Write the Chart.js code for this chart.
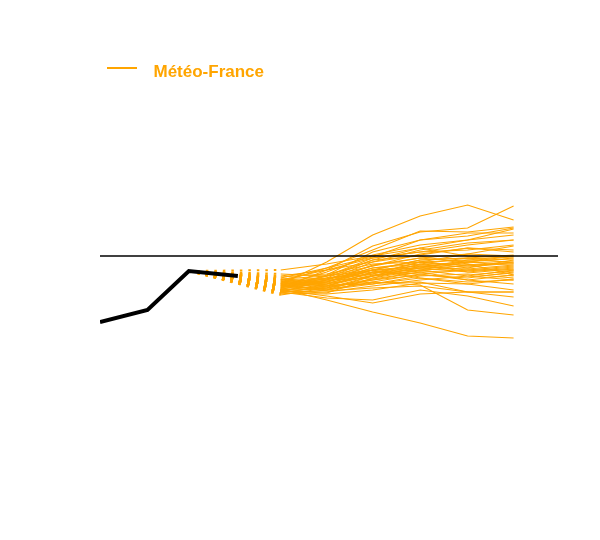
<!DOCTYPE html>
<html>
<head>
<meta charset="utf-8">
<script src="https://cdn.jsdelivr.net/npm/chart.js@4/dist/chart.umd.min.js"></script>
<style>
    html, body { margin: 0; padding: 0; background: #ffffff; }
</style>
</head>
<body>
<canvas id="chart" width="600" height="540"></canvas>
<script>
// ========================================
// Data (days from start, anomaly values)
// ========================================

const xMin = 0;
const xMax = 299;
const yMin = -24;
const yMax = 16.55;

// Observed series
const obsDays = [0, 31, 58, 90];
const obsValues = [-6.6, -5.4, -1.5, -2.0];

// Forecast dates for every ensemble member
const fcstDays = [118, 148, 178, 209, 240, 270];

// Zero reference line
const zeroDays = [xMin, xMax];
const zeroValues = [0, 0];

// Météo-France ensemble members, one list per member
const memberValues = [
    [-2.8, -0.6, 2.1, 4.0, 5.1, 3.6],
    [-3.2, -1.4, 1.0, 2.4, 2.8, 5.0],
    [-2.6, -1.2, 0.6, 2.5, 2.4, 2.9],
    [-3.4, -1.9, 0.4, 1.6, 2.0, 2.8],
    [-3.0, -1.6, 0.1, 1.1, 1.6, 2.7],
    [-2.2, -1.2, -0.1, 1.6, 2.3, 2.3],
    [-3.6, -2.4, -0.6, 0.6, 1.3, 1.6],
    [-2.9, -2.0, -0.2, 0.4, 0.6, 1.1],
    [-2.4, -1.4, -0.6, 0.1, 0.8, 0.6],
    [-3.3, -2.6, -0.9, -0.2, 0.2, 0.0],
    [-2.7, -2.2, -0.4, 0.8, 0.0, -0.2],
    [-3.5, -2.8, -1.4, -0.4, -0.2, 0.1],
    [-3.1, -2.4, -1.2, -0.6, -0.4, -0.6],
    [-2.3, -2.0, -1.0, -0.2, -0.6, -0.8],
    [-3.7, -3.0, -1.6, -0.9, -0.6, -1.0],
    [-2.8, -2.6, -1.4, -1.0, -0.8, -1.2],
    [-3.2, -2.2, -1.8, -0.6, -1.0, -1.4],
    [-2.5, -2.8, -2.0, -1.2, -1.0, -0.6],
    [-3.4, -3.0, -1.6, -1.4, -1.2, -1.6],
    [-3.0, -2.4, -2.2, -1.0, -1.4, -1.8],
    [-2.1, -1.8, -0.8, -0.6, -1.2, -0.4],
    [-3.6, -3.2, -2.4, -1.6, -1.4, -1.0],
    [-2.7, -3.0, -1.9, -1.2, -1.6, -2.0],
    [-3.3, -3.4, -2.6, -1.8, -1.4, -1.4],
    [-2.9, -2.3, -1.4, -0.4, -0.2, -0.7],
    [-2.4, -2.6, -1.2, -0.8, -1.6, -1.2],
    [-3.8, -3.4, -2.8, -2.0, -1.8, -2.2],
    [-3.1, -2.8, -2.0, -1.4, -2.0, -2.4],
    [-2.6, -3.2, -2.4, -1.9, -2.2, -1.6],
    [-3.5, -3.6, -3.0, -2.4, -2.0, -1.4],
    [-2.8, -2.5, -1.7, -1.1, -0.6, -0.2],
    [-3.2, -3.1, -2.3, -1.6, -2.4, -1.9],
    [-2.3, -2.9, -2.8, -2.2, -2.6, -2.4],
    [-3.7, -3.8, -3.4, -2.7, -2.8, -2.3],
    [-3.0, -3.3, -2.7, -2.6, -3.6, -3.6],
    [-3.4, -4.0, -4.7, -3.8, -3.6, -3.6],
    [-2.9, -3.5, -3.2, -3.0, -3.6, -4.1],
    [-3.6, -4.2, -4.4, -3.4, -4.0, -5.0],
    [-2.5, -3.0, -2.6, -2.9, -5.4, -5.9],
    [-3.3, -4.4, -5.6, -6.7, -8.0, -8.2],
    [-2.0, -1.4, -0.2, 0.4, 1.1, 1.6],
    [-1.4, -0.8, 0.0, 0.8, 1.6, 2.1],
    [-3.1, -2.7, -1.8, -0.6, 0.2, 1.0],
    [-2.7, -2.3, -1.0, 0.2, 0.8, 0.4],
    [-3.5, -3.7, -2.2, -1.4, -0.6, 0.0],
    [-3.9, -3.2, -2.0, -0.8, -0.2, -0.4],
    [-2.8, -3.4, -2.0, -1.5, -0.9, -0.8],
    [-3.2, -2.0, -0.4, 0.0, -0.8, -1.9],
    [-2.4, -2.2, -1.6, -1.8, -2.4, -2.8],
    [-3.0, -2.6, -1.4, -2.2, -2.8, -3.4],
    [-1.8, -2.0, -1.4, -1.2, -0.4, 0.0]
];

const ensembleLabel = 'Météo-France';
const ensembleColor = '#FFA500';

// ========================================
// Helpers
// ========================================

/**
 * Zip day and value arrays into {x, y} points
 */
function toPoints(days, values) {
    return days.map((d, i) => ({ x: d, y: values[i] }));
}

/**
 * Legend marker: a short line, sitting a little above the text middle,
 * followed by empty space before the label
 */
function makeLegendMarker() {
    const c = document.createElement('canvas');
    c.width = 38;
    c.height = 12;
    const g = c.getContext('2d');
    g.fillStyle = ensembleColor;
    g.fillRect(0, 1, 30, 2);
    return c;
}

// ========================================
// Datasets
// ========================================

const datasets = [];

datasets.push({
    label: 'obs',
    data: toPoints(obsDays, obsValues),
    borderColor: '#000000',
    borderWidth: 4,
    pointRadius: 0,
    order: 0
});

datasets.push({
    label: 'zero',
    data: toPoints(zeroDays, zeroValues),
    borderColor: '#000000',
    borderWidth: 1.3,
    pointRadius: 0,
    order: 1
});

// Dotted links from the last analysed point to each member's first value
const linkDay = obsDays[2];
const linkValue = obsValues[2];
memberValues.forEach((vals, i) => {
    datasets.push({
        label: 'link' + i,
        data: [{ x: linkDay, y: linkValue }, { x: fcstDays[0], y: vals[0] }],
        borderColor: ensembleColor,
        borderWidth: 2,
        borderDash: [2.5, 6],
        borderCapStyle: 'butt',
        pointRadius: 0,
        order: 3
    });
});

memberValues.forEach((vals, i) => {
    datasets.push({
        label: i === 0 ? ensembleLabel : 'member' + i,
        data: toPoints(fcstDays, vals),
        borderColor: ensembleColor,
        backgroundColor: ensembleColor,
        borderWidth: 1.1,
        pointRadius: 0,
        order: 2
    });
});

// ========================================
// Chart
// ========================================

const ctx = document.getElementById('chart').getContext('2d');
const chart = new Chart(ctx, {
    type: 'line',
    data: { datasets: datasets },
    options: {
        responsive: false,
        animation: false,
        layout: { padding: { left: 100, right: 42, top: 56.5, bottom: 44 } },
        plugins: {
            legend: {
                display: true,
                position: 'top',
                align: 'start',
                labels: {
                    filter: item => item.text === ensembleLabel,
                    usePointStyle: true,
                    pointStyle: makeLegendMarker(),
                    pointStyleWidth: 38,
                    padding: 7,
                    color: ensembleColor,
                    font: { family: '"Liberation Sans", Arial, sans-serif', size: 17, weight: 'bold' }
                }
            },
            tooltip: { enabled: false }
        },
        scales: {
            x: { type: 'linear', min: xMin, max: xMax, display: false },
            y: { type: 'linear', min: yMin, max: yMax, display: false }
        }
    }
});
</script>
</body>
</html>
